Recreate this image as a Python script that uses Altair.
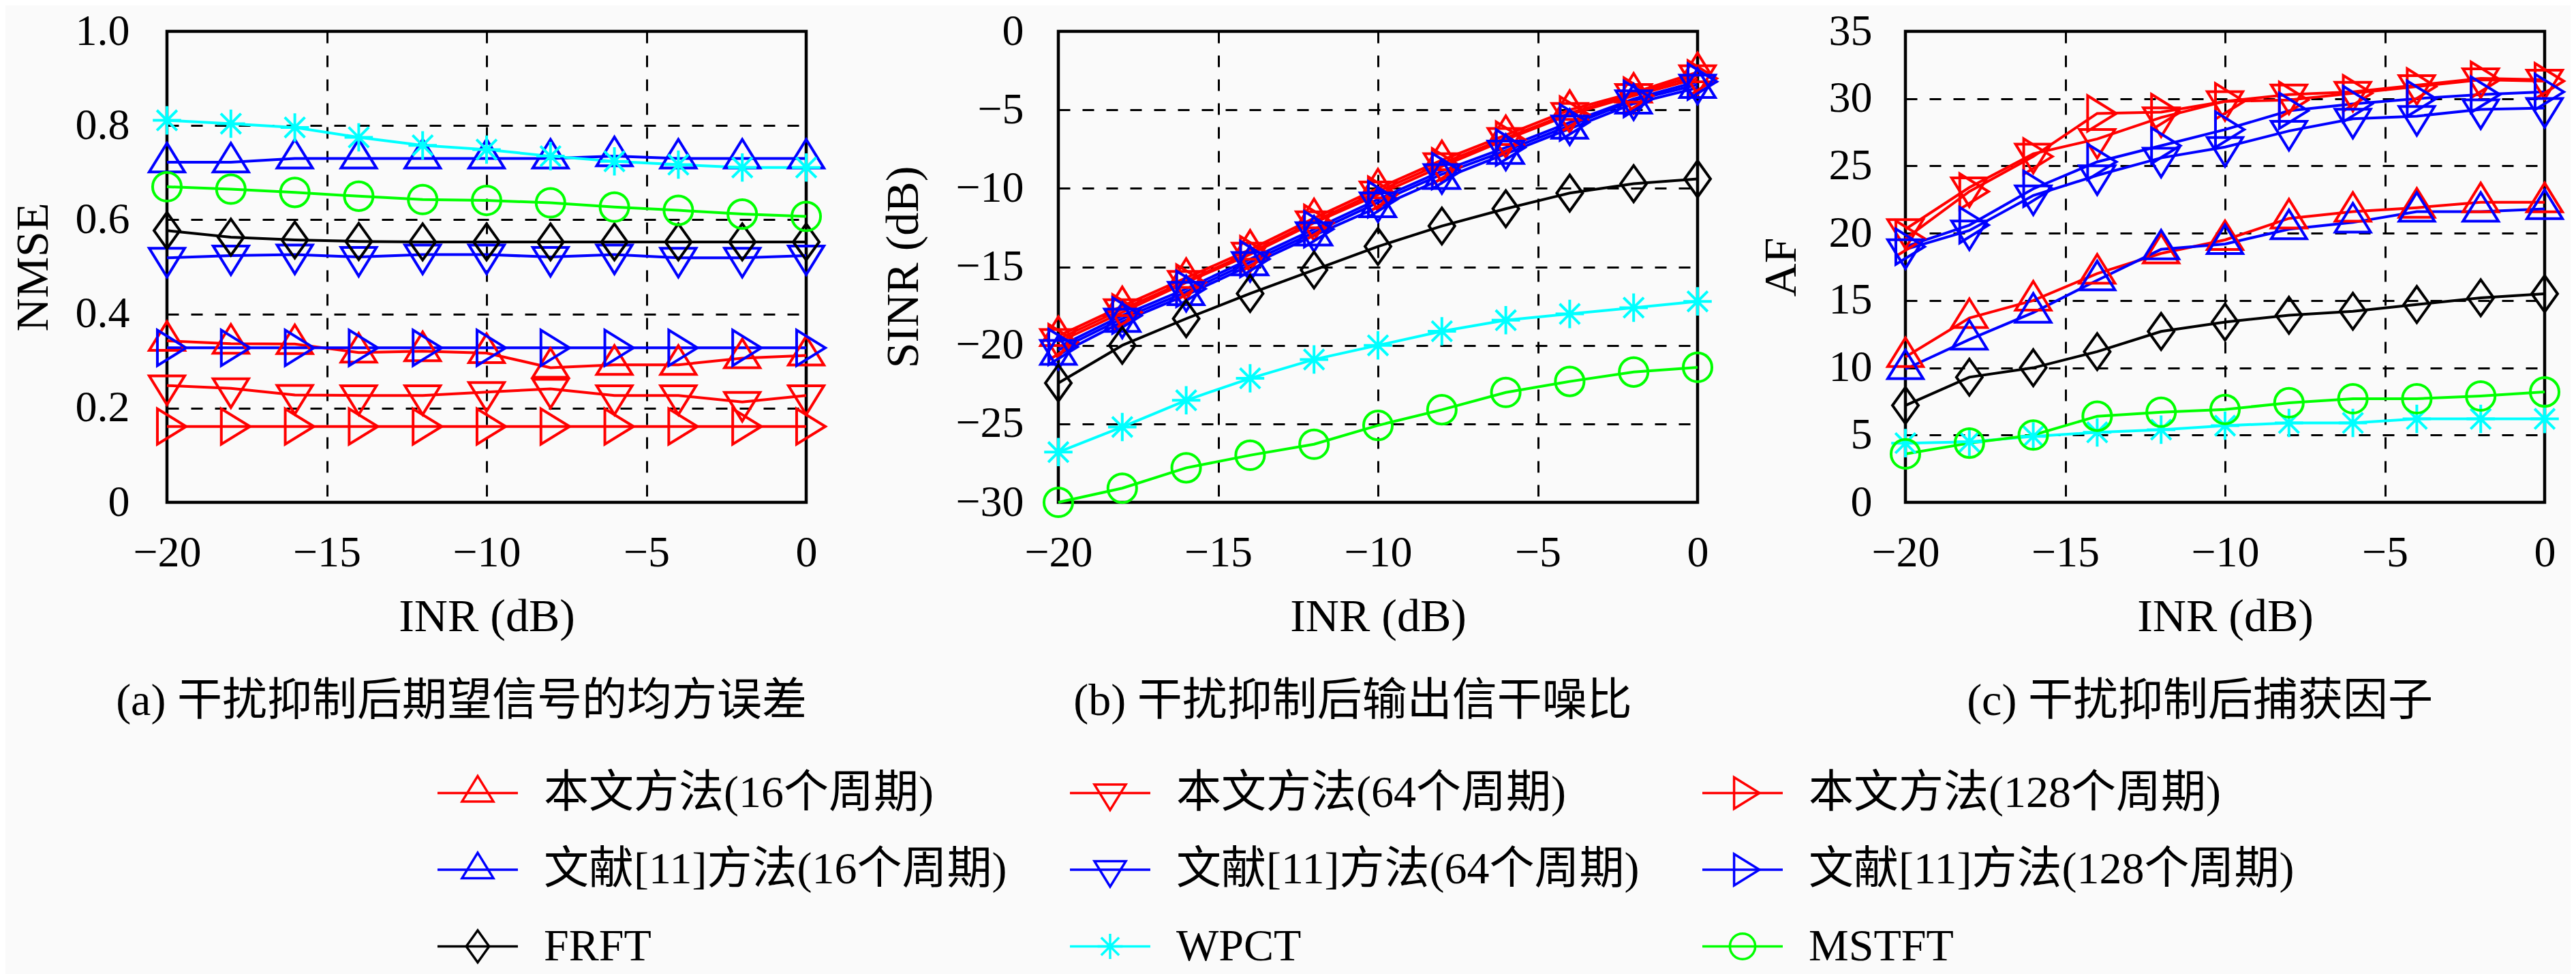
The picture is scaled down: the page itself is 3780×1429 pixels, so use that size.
import altair as alt
import pandas as pd

FONT = "Liberation Serif, Noto Sans CJK SC"

x_vals = [-20, -18, -16, -14, -12, -10, -8, -6, -4, -2, 0]

labels = ["本文方法(16个周期)", "本文方法(64个周期)", "本文方法(128个周期)",
          "文献[11]方法(16个周期)", "文献[11]方法(64个周期)", "文献[11]方法(128个周期)",
          "FRFT", "WPCT", "MSTFT"]
colors = ["#FF0000", "#FF0000", "#FF0000", "#0000FF", "#0000FF", "#0000FF",
          "#000000", "#00FFFF", "#00FF00"]
UP = "M0,-1.08L1,0.54L-1,0.54Z"
DOWN = "M0,1.08L1,-0.54L-1,-0.54Z"
RIGHT = "M1.08,0L-0.54,-1L-0.54,1Z"
DIAMOND = "M0,-1.02L0.73,0L0,1.02L-0.73,0Z"
STAR = "M-0.8,0L0.8,0M0,-0.8L0,0.8M-0.57,-0.57L0.57,0.57M-0.57,0.57L0.57,-0.57"
CIRCLE = "M0.81,0A0.81,0.81 0 1,1 -0.81,0A0.81,0.81 0 1,1 0.81,0Z"
shapes = [UP, DOWN, RIGHT, UP, DOWN, RIGHT, DIAMOND, STAR, CIRCLE]

# (a) NMSE
nmse_ours16 = [0.343, 0.337, 0.336, 0.318, 0.321, 0.317, 0.286, 0.292, 0.292, 0.306, 0.312]
nmse_ours64 = [0.248, 0.242, 0.228, 0.227, 0.227, 0.234, 0.241, 0.227, 0.227, 0.213, 0.227]
nmse_ours128 = [0.161, 0.161, 0.161, 0.161, 0.161, 0.161, 0.161, 0.161, 0.161, 0.161, 0.161]
nmse_ref16 = [0.722, 0.722, 0.730, 0.730, 0.730, 0.730, 0.730, 0.735, 0.730, 0.730, 0.730]
nmse_ref64 = [0.519, 0.524, 0.526, 0.521, 0.526, 0.526, 0.521, 0.526, 0.519, 0.519, 0.524]
nmse_ref128 = [0.328, 0.328, 0.328, 0.328, 0.328, 0.328, 0.328, 0.328, 0.328, 0.328, 0.328]
nmse_frft = [0.577, 0.563, 0.557, 0.554, 0.553, 0.553, 0.553, 0.553, 0.553, 0.553, 0.553]
nmse_wpct = [0.811, 0.804, 0.796, 0.775, 0.758, 0.749, 0.735, 0.724, 0.717, 0.711, 0.711]
nmse_mstft = [0.670, 0.665, 0.658, 0.650, 0.643, 0.641, 0.636, 0.627, 0.620, 0.612, 0.607]

# (b) SINR
sinr_ours16 = [-19.4, -17.5, -15.7, -13.9, -11.9, -10.0, -8.2, -6.6, -5.0, -3.9, -2.6]
sinr_ours64 = [-19.6, -17.7, -15.9, -14.1, -12.1, -10.2, -8.4, -6.8, -5.2, -4.0, -2.8]
sinr_ours128 = [-19.8, -17.9, -16.0, -14.2, -12.2, -10.4, -8.6, -6.9, -5.3, -4.1, -3.0]
sinr_ref16 = [-20.6, -18.5, -16.8, -14.9, -13.0, -11.2, -9.4, -7.8, -6.2, -4.6, -3.6]
sinr_ref64 = [-20.3, -18.3, -16.6, -14.7, -12.8, -10.9, -9.1, -7.6, -6.0, -4.4, -3.4]
sinr_ref128 = [-20.1, -18.1, -16.4, -14.5, -12.6, -10.7, -8.9, -7.4, -5.8, -4.3, -3.2]
sinr_frft = [-22.4, -20.0, -18.3, -16.7, -15.2, -13.7, -12.4, -11.3, -10.3, -9.7, -9.4]
sinr_wpct = [-26.8, -25.2, -23.5, -22.1, -20.9, -20.0, -19.1, -18.4, -18.0, -17.6, -17.2]
sinr_mstft = [-30.0, -29.1, -27.8, -27.0, -26.3, -25.1, -24.1, -23.0, -22.3, -21.7, -21.4]

# (c) AF
af_ours16 = [10.8, 13.7, 15.0, 17.0, 18.5, 19.5, 21.1, 21.6, 21.9, 22.3, 22.3]
af_ours64 = [20.3, 23.4, 25.9, 27.0, 28.6, 29.8, 30.3, 30.5, 31.0, 31.5, 31.4]
af_ours128 = [19.6, 23.1, 25.7, 28.9, 29.0, 29.8, 29.9, 30.4, 30.9, 31.4, 31.3]
af_ref16 = [9.9, 12.1, 14.1, 16.5, 18.8, 19.2, 20.3, 20.8, 21.6, 21.6, 21.8]
af_ref64 = [18.8, 20.2, 22.8, 24.3, 25.6, 26.4, 27.6, 28.5, 28.7, 29.2, 29.3]
af_ref128 = [19.0, 20.6, 23.3, 25.3, 26.5, 27.7, 29.1, 29.6, 30.0, 30.3, 30.5]
af_frft = [7.2, 9.3, 10.0, 11.2, 12.7, 13.4, 13.9, 14.2, 14.7, 15.2, 15.5]
af_wpct = [4.4, 4.5, 4.9, 5.2, 5.4, 5.7, 5.9, 5.9, 6.2, 6.2, 6.2]
af_mstft = [3.6, 4.4, 5.0, 6.4, 6.7, 6.9, 7.4, 7.7, 7.7, 7.9, 8.2]

x_ticks = [-20, -15, -10, -5, 0]
nmse_ticks = [0, 0.2, 0.4, 0.6, 0.8, 1.0]
sinr_ticks = [-30, -25, -20, -15, -10, -5, 0]
af_ticks = [0, 5, 10, 15, 20, 25, 30, 35]

captions = ["(a) 干扰抑制后期望信号的均方误差", "(b) 干扰抑制后输出信干噪比", "(c) 干扰抑制后捕获因子"]


def long_df(series_list):
    rows = []
    for lab, ys in zip(labels, series_list):
        for xv, yv in zip(x_vals, ys):
            rows.append({"x": xv, "value": yv, "series": lab})
    return pd.DataFrame(rows)


cscale = alt.Scale(domain=labels, range=colors)
sscale = alt.Scale(domain=labels, range=shapes)

W, H = 938, 691
GAP1, GAP2 = 370, 305
frame = alt.ViewBackground(stroke="black", strokeWidth=4.5)


def panel(df, ydom, yticks, ytitle, caption, title_x, lab_pad, label_expr=None):
    xenc = alt.X("x:Q", scale=alt.Scale(domain=[-20, 0], nice=False, zero=False),
                 axis=alt.Axis(values=x_ticks, title="INR (dB)", titleY=168,
                               titleBaseline="middle", labelPadding=42,
                               labelFlush=False, labelOverlap=False))
    yaxis_kw = dict(values=yticks, title=ytitle, titleX=title_x, titleY=H / 2,
                    titleAngle=270, titleBaseline="middle", titleAlign="center",
                    labelPadding=lab_pad, labelOverlap=False)
    if label_expr:
        yaxis_kw["labelExpr"] = label_expr
    yenc = alt.Y("value:Q", scale=alt.Scale(domain=ydom, nice=False, zero=False),
                 axis=alt.Axis(**yaxis_kw))
    col = alt.Color("series:N", scale=cscale, legend=None)
    base = alt.Chart(df)
    lines = base.mark_line(strokeWidth=4).encode(x=xenc, y=yenc, color=col)
    pts = base.mark_point(filled=False, size=2704, strokeWidth=4, opacity=1).encode(
        x=xenc, y=yenc, color=col,
        shape=alt.Shape("series:N", scale=sscale, legend=None))
    return alt.layer(lines, pts).properties(
        width=W, height=H, view=frame,
        title=alt.TitleParams(text=caption, orient="bottom", anchor="middle",
                              frame="group", offset=58, dx=-37, fontSize=66,
                              font=FONT, fontWeight="normal", color="black",
                              baseline="top"))


pa = panel(long_df([nmse_ours16, nmse_ours64, nmse_ours128, nmse_ref16, nmse_ref64,
                    nmse_ref128, nmse_frft, nmse_wpct, nmse_mstft]),
           [0, 1], nmse_ticks, "NMSE", captions[0], -196, 55,
           "datum.value == 0 ? '0' : format(datum.value, '.1f')")
pb = panel(long_df([sinr_ours16, sinr_ours64, sinr_ours128, sinr_ref16, sinr_ref64,
                    sinr_ref128, sinr_frft, sinr_wpct, sinr_mstft]),
           [-30, 0], sinr_ticks, "SINR (dB)", captions[1], -227, 51)
pc = panel(long_df([af_ours16, af_ours64, af_ours128, af_ref16, af_ref64,
                    af_ref128, af_frft, af_wpct, af_mstft]),
           [0, 35], af_ticks, "AF", captions[2], -182, 49)

# legend: drawn in the gap view between panels (a) and (b), with its own scales
leg_df = pd.DataFrame({"series": labels,
                       "col": [i % 3 for i in range(len(labels))],
                       "row": [i // 3 for i in range(len(labels))]})
lx = alt.X("col:Q", scale=alt.Scale(domain=[0.5830, 0.9817], nice=False, zero=False), axis=None)
ly = alt.Y("row:Q", scale=alt.Scale(domain=[-9.9333, -3.7911], reverse=True, nice=False, zero=False),
           axis=None)
lcol = alt.Color("series:N", scale=cscale, legend=None)
lbase = alt.Chart(leg_df)
lrule = lbase.mark_rule(strokeWidth=3.5, x2Offset=118).encode(x=lx, x2="col:Q", y=ly, color=lcol)
lpts = lbase.mark_point(filled=False, size=2116, strokeWidth=3.5, opacity=1, xOffset=59).encode(
    x=lx, y=ly, color=lcol, shape=alt.Shape("series:N", scale=sscale, legend=None))
ltxt = lbase.mark_text(dx=156, align="left", baseline="middle", fontSize=66, font=FONT,
                       color="black").encode(x=lx, y=ly, text="series:N")
gap_legend = alt.layer(lrule, lpts, ltxt).properties(
    width=GAP1, height=H, view=alt.ViewBackground(stroke="transparent"))

gap2 = alt.Chart(pd.DataFrame({"v": [0]})).mark_point(opacity=0).encode(
    x=alt.X("v:Q", axis=None), y=alt.Y("v:Q", axis=None)
).properties(width=GAP2, height=H, view=alt.ViewBackground(stroke="transparent"))

PAD_L, PAD_T = 237, 38
SVG_W, SVG_H = 3764, 1405

chart = alt.hconcat(pa, gap_legend, pb, gap2, pc, spacing=0, bounds="flush").properties(
    autosize=alt.AutoSizeParams(type="none"),
    padding={"left": PAD_L, "top": PAD_T, "right": SVG_W - PAD_L, "bottom": SVG_H - PAD_T},
    background="#FAFAFA"
).configure_axis(
    grid=True, gridColor="black", gridDash=[17, 18], gridWidth=3, gridOpacity=1,
    domain=False, ticks=False, tickSize=0,
    labelFont=FONT, labelFontSize=64, labelColor="black",
    titleFont=FONT, titleFontSize=68, titleFontWeight="normal", titleColor="black"
).configure_view(stroke="transparent")

chart.save("out.html", embed_options={"renderer": "svg", "actions": False})
